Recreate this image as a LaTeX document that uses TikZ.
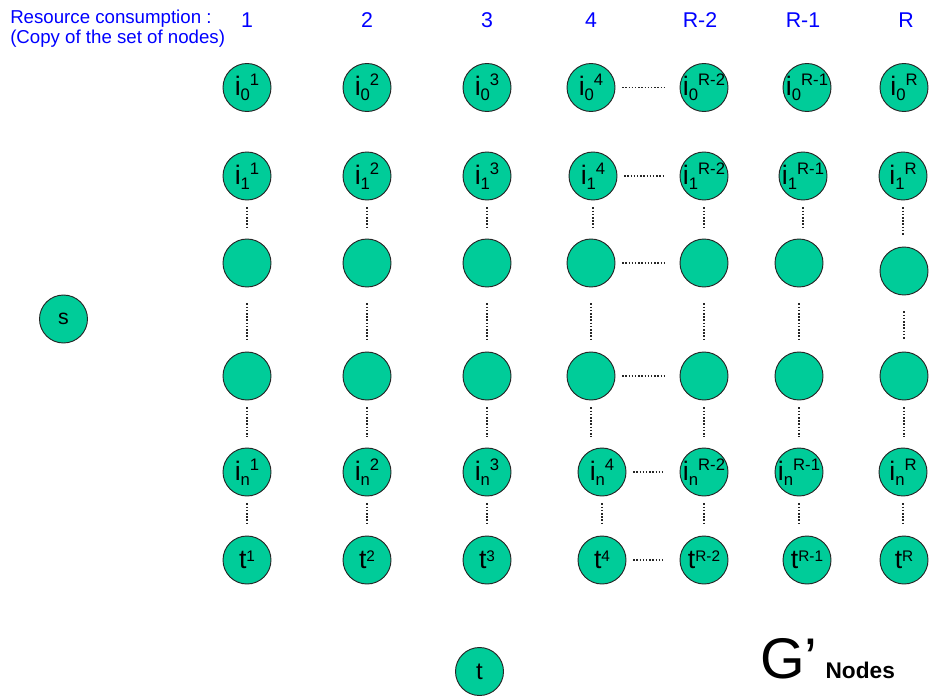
\documentclass[tikz,border=0pt]{standalone}
\usepackage{fontspec}
\setmainfont{Liberation Sans}
\definecolor{nodegreen}{HTML}{00CC99}
\definecolor{headblue}{HTML}{0000FF}
\newcommand{\lo}[1]{\raisebox{-3.5pt}{\fontsize{12.5}{12.5}\selectfont #1}}
\newcommand{\hi}[1]{\raisebox{7.5pt}{\fontsize{12.5}{12.5}\selectfont #1}}
\newcommand{\ilab}[2]{\makebox[0pt]{\fontsize{20}{20}\selectfont i\lo{#1}\hi{#2}}}
\newcommand{\tlab}[1]{\makebox[0pt]{\fontsize{20}{20}\selectfont t\raisebox{5.5pt}{\fontsize{11.5}{11.5}\selectfont #1}}}
\tikzset{
  gnode/.style={circle, draw=black!85, line width=0.7pt, fill=nodegreen,
    minimum size=36pt, inner sep=0pt},
  vdots/.style={line width=1.2pt, black!85, dash pattern=on 1.1pt off 1.3pt,
    shorten <=5.25pt, shorten >=8.25pt},
  hdots/.style={line width=1.2pt, black!85, dash pattern=on 1.1pt off 1.3pt,
    shorten <=5pt, shorten >=11pt},
  headnum/.style={text=headblue, font=\fontsize{16}{16}\selectfont, inner sep=0pt}
}

\begin{document}
\begin{tikzpicture}[x=0.75pt, y=-0.75pt]
    \useasboundingbox (0,0) rectangle (930,696);

    % Resource consumption header
    \node[anchor=north west, align=left, inner sep=0pt, text=headblue,
        font=\fontsize{14}{15}\selectfont] (title) at (10,9.6)
        {Resource consumption :\\(Copy of the set of nodes)};
    \foreach \x/\k [count=\n] in {247/1,367/2,487/3,591/4,700/R-2,803/R-1,906/R}
        \node[headnum, anchor=base] (h-\n) at (\x,27) {\k};

    % Source
    \node[gnode, font=\fontsize{16}{16}\selectfont] (s) at (63.5,319) {s};

    % Row i_0
    \foreach \x/\k [count=\n] in {247/1,367/2,487/3,591/4,704/R-2,807/R-1,904/R}
        \node[gnode] (i0-\n) at (\x,87.5) {\ilab{0}{\k}};

    % Row i_1
    \foreach \x/\k [count=\n] in {247/1,367/2,487/3,593/4,704/R-2,803/R-1,903/R}
        \node[gnode] (i1-\n) at (\x,176) {\ilab{1}{\k}};

    % Unlabelled rows
    \foreach \x/\y [count=\n] in {247/263,367/263,487/263,591/263,704/263,799/263,904/271}
        \node[gnode] (m1-\n) at (\x,\y) {};
    \foreach \x [count=\n] in {247,367,487,591,704,799,904}
        \node[gnode] (m2-\n) at (\x,376) {};

    % Row i_n
    \foreach \x/\k [count=\n] in {247/1,367/2,487/3,602/4,704/R-2,799/R-1,903/R}
        \node[gnode] (in-\n) at (\x,472) {\ilab{n}{\k}};

    % Row t
    \foreach \x/\k [count=\n] in {247/1,367/2,487/3,602/4,704/R-2,807/R-1,904/R}
        \node[gnode] (t-\n) at (\x,560) {\tlab{\k}};

    % Sink
    \node[gnode, font=\fontsize{18}{18}\selectfont] (t) at (479.5,671.5) {t};

    % Dotted links down each column
    \foreach \n in {1,...,7} {
        \draw[vdots] (i1-\n.south) -- (i1-\n.south |- m1-\n.north);
        \draw[vdots, shorten <=12pt, shorten >=9pt] (m1-\n.south) -- (m1-\n.south |- m2-\n.north);
        \draw[vdots] (m2-\n.south) -- (m2-\n.south |- in-\n.north);
        \draw[vdots] (in-\n.south) -- (in-\n.south |- t-\n.north);
    }

    % Dotted links from column 4 to column R-2
    \foreach \r in {i0,i1,m1,m2,in,t}
        \draw[hdots] (\r-4.east) -- (\r-4.east -| \r-5.west);

    % Graph name
    \node[anchor=base west, inner sep=0pt] (gname) at (760,678)
        {\fontsize{43}{43}\selectfont G’\hspace{6pt}\fontsize{17}{17}\selectfont\bfseries Nodes};
\end{tikzpicture}
\end{document}
